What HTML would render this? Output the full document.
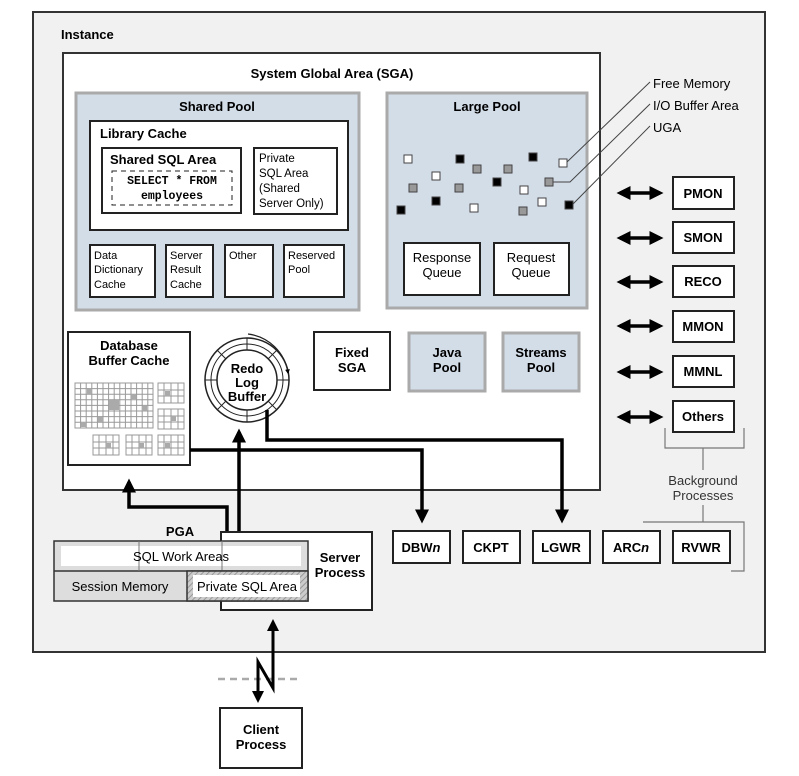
<!DOCTYPE html>
<html><head><style>body{margin:0;background:#fff}svg{display:block}</style></head><body>
<svg width="799" height="776" viewBox="0 0 799 776" xmlns="http://www.w3.org/2000/svg" font-family="Liberation Sans, sans-serif">
<defs>
<pattern id="h" width="4" height="4" patternUnits="userSpaceOnUse" patternTransform="rotate(45)"><rect width="4" height="4" fill="#ccc"/><line x1="0" y1="0" x2="0" y2="4" stroke="#888" stroke-width="1.5"/></pattern>
<marker id="a" markerWidth="4" markerHeight="4" refX="3" refY="2" orient="auto" markerUnits="strokeWidth"><path d="M0,0 L4,2 L0,4 z" fill="#000"/></marker>
<marker id="as" markerWidth="4" markerHeight="4" refX="1" refY="2" orient="auto" markerUnits="strokeWidth"><path d="M4,0 L0,2 L4,4 z" fill="#000"/></marker>
</defs>
<!-- Instance -->
<rect x="33" y="12" width="732" height="640" fill="#f1f1f1" stroke="#333" stroke-width="2"/>
<text x="61" y="39" font-size="13" font-weight="bold">Instance</text>
<!-- SGA -->
<rect x="63" y="53" width="537" height="437" fill="#fff" stroke="#333" stroke-width="2"/>
<text x="332" y="78" font-size="13" font-weight="bold" text-anchor="middle">System Global Area (SGA)</text>
<!-- Shared pool -->
<rect x="76" y="93" width="283" height="217" fill="#d3dde8" stroke="#aaa" stroke-width="3"/>
<text x="217" y="111" font-size="13" font-weight="bold" text-anchor="middle">Shared Pool</text>
<rect x="90" y="121" width="258" height="109" fill="#fff" stroke="#222" stroke-width="2"/>
<text x="100" y="138" font-size="13" font-weight="bold">Library Cache</text>
<rect x="102" y="148" width="139" height="65" fill="#fff" stroke="#222" stroke-width="2"/>
<text x="110" y="164" font-size="13" font-weight="bold">Shared SQL Area</text>
<rect x="112" y="171" width="120" height="34" fill="none" stroke="#222" stroke-dasharray="5,4"/>
<text x="172" y="184" font-size="11.5" font-weight="bold" text-anchor="middle" font-family="Liberation Mono, monospace">SELECT * FROM</text>
<text x="172" y="199" font-size="11.5" font-weight="bold" text-anchor="middle" font-family="Liberation Mono, monospace">employees</text>
<rect x="254" y="148" width="83" height="66" fill="#fff" stroke="#222" stroke-width="2"/>
<g font-size="11.5"><text x="259" y="162">Private</text><text x="259" y="177">SQL Area</text><text x="259" y="192">(Shared</text><text x="259" y="207">Server Only)</text></g>
<g fill="#fff" stroke="#222" stroke-width="2">
<rect x="90" y="245" width="65" height="52"/><rect x="166" y="245" width="47" height="52"/><rect x="225" y="245" width="48" height="52"/><rect x="284" y="245" width="60" height="52"/></g>
<g font-size="11"><text x="94" y="259">Data</text><text x="94" y="273">Dictionary</text><text x="94" y="288">Cache</text>
<text x="170" y="259">Server</text><text x="170" y="273">Result</text><text x="170" y="288">Cache</text>
<text x="229" y="259">Other</text><text x="288" y="259">Reserved</text><text x="288" y="273">Pool</text></g>
<!-- Large pool -->
<rect x="387" y="93" width="200" height="215" fill="#d3dde8" stroke="#aaa" stroke-width="3"/>
<text x="487" y="111" font-size="13" font-weight="bold" text-anchor="middle">Large Pool</text>
<g stroke="#444" stroke-width="1">
<rect x="404" y="155" width="8" height="8" fill="#fff"/><rect x="456" y="155" width="8" height="8" fill="#000"/><rect x="473" y="165" width="8" height="8" fill="#999"/><rect x="432" y="172" width="8" height="8" fill="#fff"/><rect x="409" y="184" width="8" height="8" fill="#999"/><rect x="455" y="184" width="8" height="8" fill="#999"/><rect x="504" y="165" width="8" height="8" fill="#999"/><rect x="493" y="178" width="8" height="8" fill="#000"/><rect x="529" y="153" width="8" height="8" fill="#000"/><rect x="559" y="159" width="8" height="8" fill="#fff"/><rect x="545" y="178" width="8" height="8" fill="#999"/><rect x="520" y="186" width="8" height="8" fill="#fff"/><rect x="538" y="198" width="8" height="8" fill="#fff"/><rect x="519" y="207" width="8" height="8" fill="#999"/><rect x="565" y="201" width="8" height="8" fill="#000"/><rect x="432" y="197" width="8" height="8" fill="#000"/><rect x="397" y="206" width="8" height="8" fill="#000"/><rect x="470" y="204" width="8" height="8" fill="#fff"/></g>
<g stroke="#444" fill="none"><path d="M567,162 L650,82"/><path d="M553,182 L570,182 L650,104"/><path d="M573,204 L650,126"/></g>
<g font-size="13"><text x="653" y="88">Free Memory</text><text x="653" y="110">I/O Buffer Area</text><text x="653" y="132">UGA</text></g>
<rect x="404" y="243" width="76" height="52" fill="#fff" stroke="#222" stroke-width="2"/>
<rect x="494" y="243" width="75" height="52" fill="#fff" stroke="#222" stroke-width="2"/>
<g font-size="13" text-anchor="middle"><text x="442" y="262">Response</text><text x="442" y="277">Queue</text><text x="531" y="262">Request</text><text x="531" y="277">Queue</text></g>
<!-- DB buffer cache -->
<rect x="68" y="332" width="122" height="133" fill="#fff" stroke="#222" stroke-width="2"/>
<g font-size="13" font-weight="bold" text-anchor="middle"><text x="129" y="350">Database</text><text x="129" y="365">Buffer Cache</text></g>
<g stroke="#999" stroke-width="1" fill="none">
<rect x="75" y="383" width="78" height="45"/>
<path d="M75,388.6h78M75,394.2h78M75,399.8h78M75,405.4h78M75,411h78M75,416.6h78M75,422.2h78M80.6,383v45M86.2,383v45M91.8,383v45M97.4,383v45M103,383v45M108.6,383v45M114.2,383v45M119.8,383v45M125.4,383v45M131,383v45M136.6,383v45M142.2,383v45M147.8,383v45"/>
<rect x="158" y="383" width="26" height="20"/><rect x="158" y="409" width="26" height="20"/><rect x="93" y="435" width="26" height="20"/><rect x="126" y="435" width="26" height="20"/><rect x="158" y="435" width="26" height="20"/>
<path d="M158,390h26M158,396h26M164,383v20M171,383v20M178,383v20M158,416h26M158,422h26M164,409v20M171,409v20M178,409v20M93,442h26M93,448h26M99,435v20M106,435v20M113,435v20M126,442h26M126,448h26M132,435v20M139,435v20M146,435v20M158,442h26M158,448h26M164,435v20M171,435v20M178,435v20"/></g>
<g fill="#aaa"><rect x="87" y="389" width="5" height="5"/><rect x="109" y="400" width="10" height="10"/><rect x="142" y="406" width="5" height="5"/><rect x="98" y="417" width="5" height="5"/><rect x="81" y="422" width="5" height="5"/><rect x="131" y="394" width="5" height="5"/><rect x="165" y="391" width="5" height="5"/><rect x="171" y="416" width="5" height="5"/><rect x="106" y="443" width="5" height="5"/><rect x="139" y="443" width="5" height="5"/><rect x="165" y="443" width="5" height="5"/></g>
<!-- Redo -->
<circle cx="247" cy="380" r="42" fill="#fff" stroke="#222" stroke-width="1.5"/>
<circle cx="247" cy="380" r="30" fill="#fff" stroke="#222" stroke-width="1.5"/>
<circle cx="247" cy="380" r="36" fill="none" stroke="#222" stroke-width="1"/>
<g stroke="#222"><path d="M247,338v12M247,410v12M289,380h-12M205,380h12M277,350l-9,9M217,410l9,-9M277,410l-9,-9M217,350l9,9"/></g>
<path d="M248,334 A46 46 0 0 1 288,373" fill="none" stroke="#222" stroke-width="1.2" marker-end="url(#a)"/>
<text x="247" y="373" font-size="13" font-weight="bold" text-anchor="middle">Redo</text>
<text x="247" y="387" font-size="13" font-weight="bold" text-anchor="middle">Log</text>
<text x="247" y="401" font-size="13" font-weight="bold" text-anchor="middle">Buffer</text>
<rect x="314" y="332" width="76" height="58" fill="#fff" stroke="#222" stroke-width="2"/>
<g font-size="13" font-weight="bold" text-anchor="middle"><text x="352" y="357">Fixed</text><text x="352" y="372">SGA</text></g>
<rect x="409" y="333" width="76" height="58" fill="#d3dde8" stroke="#aaa" stroke-width="3"/>
<rect x="503" y="333" width="76" height="58" fill="#d3dde8" stroke="#aaa" stroke-width="3"/>
<g font-size="13" font-weight="bold" text-anchor="middle"><text x="447" y="357">Java</text><text x="447" y="372">Pool</text><text x="541" y="357">Streams</text><text x="541" y="372">Pool</text></g>
<!-- connectors -->
<g fill="none" stroke="#000" stroke-width="3.5">
<path d="M190,450 H422 V520" marker-end="url(#a)"/>
<path d="M267,410 V440 H562 V520" marker-end="url(#a)"/>
<path d="M239,533 V432" marker-end="url(#a)"/>
<path d="M227,533 V507 H129 V482" marker-end="url(#a)"/>
<path d="M620,193 H660" marker-start="url(#as)" marker-end="url(#a)"/>
<path d="M620,238 H660" marker-start="url(#as)" marker-end="url(#a)"/>
<path d="M620,282 H660" marker-start="url(#as)" marker-end="url(#a)"/>
<path d="M620,326 H660" marker-start="url(#as)" marker-end="url(#a)"/>
<path d="M620,372 H660" marker-start="url(#as)" marker-end="url(#a)"/>
<path d="M620,417 H660" marker-start="url(#as)" marker-end="url(#a)"/>
</g>
<g fill="#fff" stroke="#222" stroke-width="2">
<rect x="673" y="177" width="61" height="32"/><rect x="673" y="222" width="61" height="31"/><rect x="673" y="266" width="61" height="31"/><rect x="673" y="311" width="61" height="31"/><rect x="673" y="356" width="61" height="31"/><rect x="673" y="401" width="61" height="31"/>
<rect x="393" y="531" width="57" height="32"/><rect x="463" y="531" width="57" height="32"/><rect x="533" y="531" width="57" height="32"/><rect x="603" y="531" width="57" height="32"/><rect x="673" y="531" width="57" height="32"/></g>
<g font-size="13" font-weight="bold" text-anchor="middle">
<text x="703" y="198">PMON</text><text x="703" y="242">SMON</text><text x="703" y="286">RECO</text><text x="703" y="331">MMON</text><text x="703" y="376">MMNL</text><text x="703" y="421">Others</text>
<text x="421" y="552">DBW<tspan font-style="italic">n</tspan></text><text x="491" y="552">CKPT</text><text x="561" y="552">LGWR</text><text x="631" y="552">ARC<tspan font-style="italic">n</tspan></text><text x="701" y="552">RVWR</text></g>
<g fill="none" stroke="#777" stroke-width="1.2"><path d="M665,428 V448 H744 V428M703,448 V470M703,505 V522M643,522 H744 V571 H731"/></g>
<g font-size="13" fill="#333" text-anchor="middle"><text x="703" y="485">Background</text><text x="703" y="500">Processes</text></g>
<!-- PGA / server -->
<text x="180" y="536" font-size="13" font-weight="bold" text-anchor="middle">PGA</text>
<rect x="221" y="532" width="151" height="78" fill="#fff" stroke="#222" stroke-width="2"/>
<g font-size="13" font-weight="bold" text-anchor="middle"><text x="340" y="562">Server</text><text x="340" y="577">Process</text></g>
<rect x="54" y="541" width="254" height="60" fill="#ddd" stroke="#333" stroke-width="1.5"/>
<rect x="61" y="546" width="240" height="20" fill="#fff"/>
<line x1="54" y1="571" x2="308" y2="571" stroke="#333" stroke-width="1.5"/>
<line x1="139" y1="541" x2="139" y2="571" stroke="#777"/><line x1="222" y1="541" x2="222" y2="571" stroke="#777"/>
<rect x="187" y="571" width="121" height="30" fill="url(#h)" stroke="#333" stroke-width="1.5"/>
<rect x="193" y="575" width="107" height="22" fill="#fff"/>
<text x="181" y="561" font-size="13" text-anchor="middle">SQL Work Areas</text>
<text x="120" y="591" font-size="13" text-anchor="middle">Session Memory</text>
<text x="247" y="591" font-size="13" text-anchor="middle">Private SQL Area</text>
<!-- client -->
<line x1="218" y1="679" x2="302" y2="679" stroke="#aaa" stroke-width="2.5" stroke-dasharray="7,5"/>
<path d="M273,622 V688 L258,662 V700" fill="none" stroke="#000" stroke-width="3" marker-end="url(#a)"/>
<path d="M273,630 V622" fill="none" stroke="#000" stroke-width="3" marker-end="url(#a)"/>
<rect x="220" y="708" width="82" height="60" fill="#fff" stroke="#222" stroke-width="2"/>
<g font-size="13" font-weight="bold" text-anchor="middle"><text x="261" y="734">Client</text><text x="261" y="749">Process</text></g>
</svg>
</body></html>
